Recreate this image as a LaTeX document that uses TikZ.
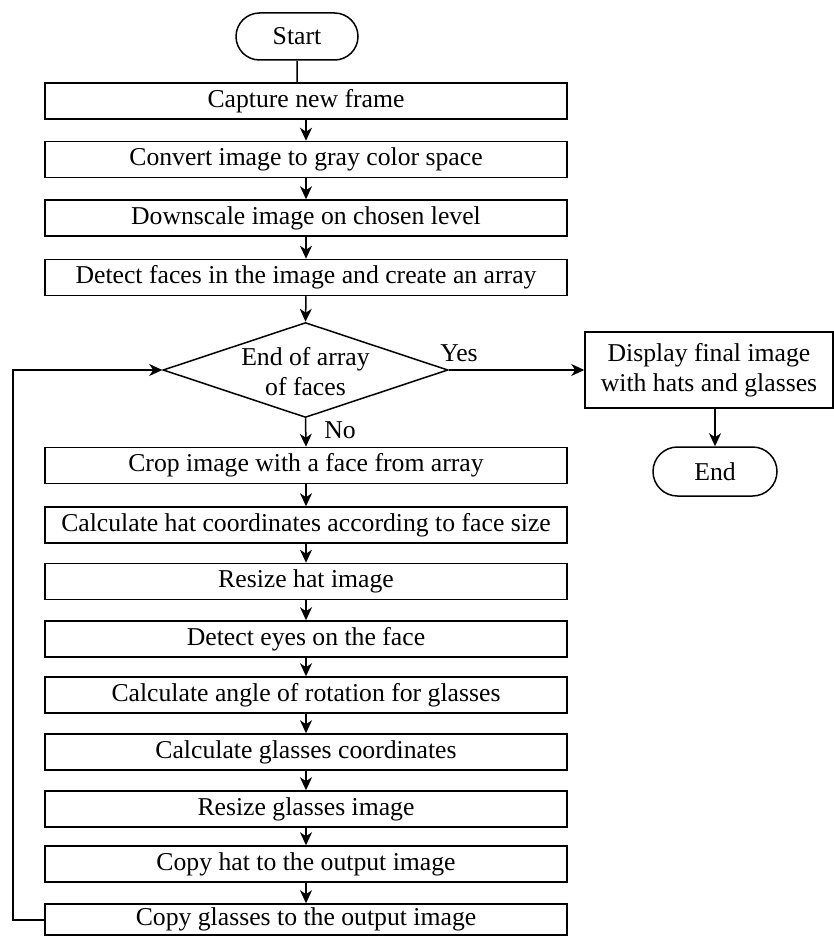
\documentclass[tikz,border=0pt]{standalone}
\usepackage{fontspec}
\setmainfont{Liberation Serif}
\usetikzlibrary{arrows.meta,shapes.geometric,shapes.misc}
\begin{document}
\begin{tikzpicture}[x=1pt,y=-1pt,
  every node/.style={font=\fontsize{25.7}{30}\selectfont},
  proc/.style={draw,line width=1.5pt,rectangle,minimum width=522pt,minimum height=36pt,inner sep=0pt},
  term/.style={draw,line width=1.5pt,rounded rectangle,inner sep=0pt},
  lbl/.style={inner sep=0pt},
  arr/.style={line width=1.5pt,-{Stealth[length=13pt,width=12pt,inset=4pt]}},
  ln/.style={line width=1.5pt}]
\useasboundingbox (0,0) rectangle (834,936);
\node[term,minimum width=122pt,minimum height=47pt] (start) at (297,36.5) {Start};
\node[proc] (b1) at (306,101) {Capture new frame};
\node[proc] (b2) at (306,159.5) {Convert image to gray color space};
\node[proc] (b3) at (306,218) {Downscale image on chosen level};
\node[proc] (b4) at (306,277.5) {Detect faces in the image and create an array};
\node[draw,line width=1.5pt,diamond,aspect=3,minimum width=285pt,minimum height=95pt,inner sep=0pt] (dec) at (305.5,370) {};
\node[lbl,align=center] (dtext) at (305.5,372) {End of array\\of faces};
\node[proc] (b5) at (306,465.5) {Crop image with a face from array};
\node[proc] (b6) at (306,525) {Calculate hat coordinates according to face size};
\node[proc] (b7) at (306,581.5) {Resize hat image};
\node[proc] (b8) at (306,639) {Detect eyes on the face};
\node[proc] (b9) at (306,695) {Calculate angle of rotation for glasses};
\node[proc] (b10) at (306,752) {Calculate glasses coordinates};
\node[proc] (b11) at (306,809) {Resize glasses image};
\node[proc] (b12) at (306,864) {Copy hat to the output image};
\node[proc,minimum height=31pt] (b13) at (306,919.5) {Copy glasses to the output image};
\node[draw,line width=1.5pt,rectangle,minimum width=248pt,minimum height=76pt,inner sep=0pt,align=center] (disp) at (709,370) {Display final image\\with hats and glasses};
\node[term,minimum width=124pt,minimum height=49pt] (end) at (715,471.5) {End};
\node[lbl] (yes) at (459,353) {Yes};
\node[lbl] (no) at (340,430) {No};
\coordinate (fb) at (13,920);
\draw[ln] (start) -- (start |- b1.north);
\draw[arr] (b1) -- (b2);
\draw[arr] (b2) -- (b3);
\draw[arr] (b3) -- (b4);
\draw[arr] (b4.south) -- (dec.north);
\draw[arr] (dec.south) -- (b5.north);
\draw[arr] (b5) -- (b6);
\draw[arr] (b6) -- (b7);
\draw[arr] (b7) -- (b8);
\draw[arr] (b8) -- (b9);
\draw[arr] (b9) -- (b10);
\draw[arr] (b10) -- (b11);
\draw[arr] (b11) -- (b12);
\draw[arr] (b12) -- (b13);
\draw[arr] (dec.east) -- (disp.west);
\draw[arr] (disp.south -| end) -- (end.north);
\draw[arr] (b13.west |- fb) -- (fb) |- (dec.west);
\end{tikzpicture}
\end{document}
